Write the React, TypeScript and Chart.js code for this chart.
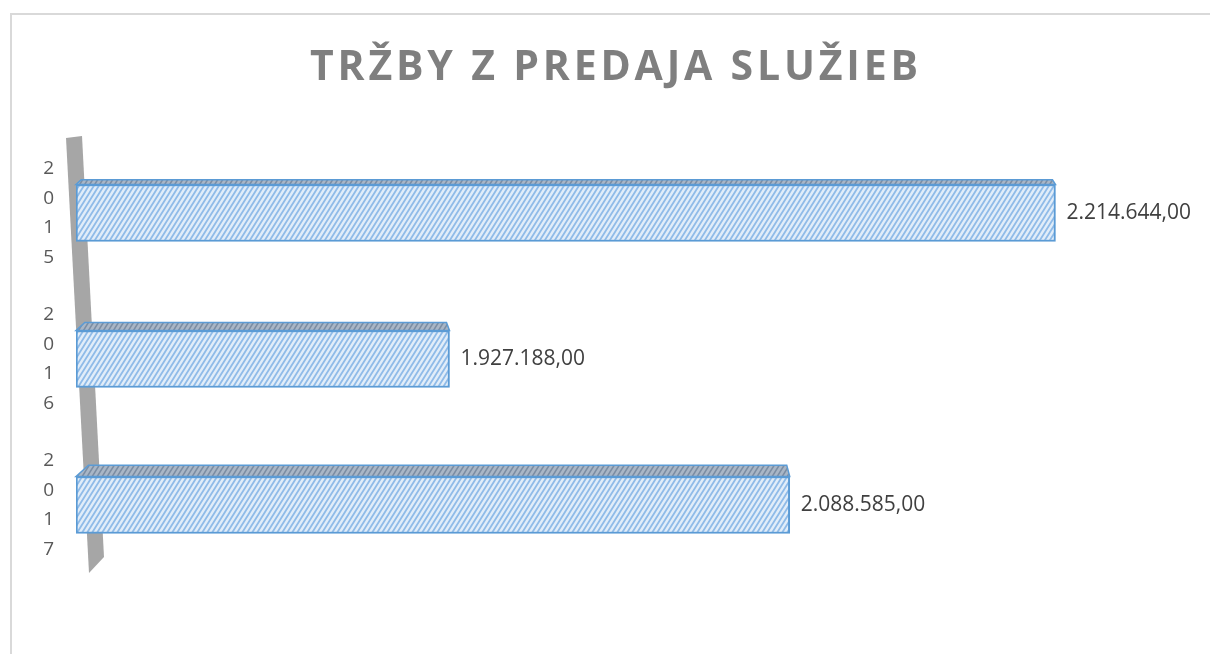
import React, { useEffect, useRef } from "react";
import { Chart, registerables } from "chart.js";

Chart.register(...registerables);

const categories = ["2015", "2016", "2017"];
const values = [2214644.0, 1927188.0, 2088585.0];
const tickLabels = categories.map((c) => c.split(""));
const titleText = "TRŽBY Z PREDAJA SLUŽIEB";
const axisMin = 1750000;
const axisMax = 2250000;

function fmt(v: number): string {
  const [i, d] = v.toFixed(2).split(".");
  return i.replace(/\B(?=(\d{3})+(?!\d))/g, ".") + "," + d;
}

function makePattern(bg: string, line: string, lw: number): CanvasPattern | string {
  const w = 5;
  const h = 8;
  const c = document.createElement("canvas");
  c.width = w;
  c.height = h;
  const g = c.getContext("2d");
  if (!g) return bg;
  g.fillStyle = bg;
  g.fillRect(0, 0, w, h);
  g.strokeStyle = line;
  g.lineWidth = lw;
  g.beginPath();
  for (const ox of [-w, 0, w]) {
    for (const oy of [-h, 0, h]) {
      g.moveTo(ox, oy + h);
      g.lineTo(ox + w, oy);
    }
  }
  g.stroke();
  const p = g.createPattern(c, "repeat");
  return p || bg;
}

export default function App() {
  const ref = useRef<HTMLCanvasElement | null>(null);

  useEffect(() => {
    document.body.style.margin = "0";
    const canvas = ref.current;
    if (!canvas) return;

    const frontPattern = makePattern("#e1edf9", "#8fbbe8", 1.8);
    const topPattern = makePattern("#a9b6c6", "#7b8da3", 1.5);

    const framePlugin = {
      id: "frameTitle",
      beforeDraw(chart: any) {
        const ctx = chart.ctx as CanvasRenderingContext2D;
        ctx.save();
        ctx.fillStyle = "#ffffff";
        ctx.fillRect(0, 0, chart.width, chart.height);
        ctx.strokeStyle = "#d9d9d9";
        ctx.lineWidth = 2;
        ctx.beginPath();
        ctx.moveTo(11, chart.height + 2);
        ctx.lineTo(11, 14);
        ctx.lineTo(chart.width + 2, 14);
        ctx.stroke();

        ctx.font = "bold 41px 'Open Sans'";
        ctx.fillStyle = "#7f7f7f";
        ctx.textBaseline = "alphabetic";
        const target = 608;
        const chars = Array.from(titleText);
        const widths = chars.map((ch) => ctx.measureText(ch).width);
        const raw = widths.reduce((s, w) => s + w, 0);
        const spacing = Math.max(0, (target - raw) / (chars.length - 1));
        const total = raw + spacing * (chars.length - 1);
        let x = 614 - total / 2;
        chars.forEach((ch, i) => {
          ctx.fillText(ch, x, 80);
          x += widths[i] + spacing;
        });
        ctx.restore();
      },
    };

    const wallPlugin = {
      id: "wall",
      beforeDatasetsDraw(chart: any) {
        const a = chart.chartArea;
        const ctx = chart.ctx as CanvasRenderingContext2D;
        ctx.save();
        ctx.fillStyle = "#a6a6a6";
        ctx.beginPath();
        ctx.moveTo(a.left - 10, a.top - 2);
        ctx.lineTo(a.left + 6, a.top - 4);
        ctx.lineTo(a.left + 28, a.bottom - 21);
        ctx.lineTo(a.left + 13, a.bottom - 5);
        ctx.closePath();
        ctx.fill();
        ctx.restore();
      },
    };

    const facePlugin = {
      id: "faces",
      afterDatasetsDraw(chart: any) {
        const a = chart.chartArea;
        const ctx = chart.ctx as CanvasRenderingContext2D;
        const meta = chart.getDatasetMeta(0);
        ctx.save();
        meta.data.forEach((el: any, i: number) => {
          const { x, y, base, height } = el.getProps(["x", "y", "base", "height"], true);
          const top = y - height / 2;
          const d = 3 + (10 * (y - a.top)) / a.height;
          ctx.beginPath();
          ctx.moveTo(base, top);
          ctx.lineTo(base + d * 1.1, top - d);
          ctx.lineTo(x - 3, top - d);
          ctx.lineTo(x, top);
          ctx.closePath();
          ctx.fillStyle = topPattern as any;
          ctx.fill();
          ctx.strokeStyle = "#5b9bd5";
          ctx.lineWidth = 1.5;
          ctx.stroke();

          ctx.font = "21px 'Open Sans'";
          ctx.fillStyle = "#404040";
          ctx.textAlign = "left";
          ctx.textBaseline = "middle";
          ctx.fillText(fmt(values[i]), x + 11, y);
        });
        ctx.restore();
      },
    };

    const chart = new Chart(canvas, {
      type: "bar",
      data: {
        labels: tickLabels,
        datasets: [
          {
            data: values,
            base: axisMin,
            backgroundColor: frontPattern as any,
            borderColor: "#5b9bd5",
            borderWidth: 2,
            borderSkipped: false,
            barThickness: 57,
          } as any,
        ],
      },
      options: {
        indexAxis: "y",
        responsive: false,
        animation: false,
        layout: { padding: { top: 140, bottom: 76, left: 0, right: 80 } },
        plugins: {
          legend: { display: false },
          title: { display: false },
          tooltip: { enabled: false },
        },
        scales: {
          x: {
            display: false,
            min: axisMin,
            max: axisMax,
          },
          y: {
            grid: { display: false, drawTicks: false },
            border: { display: false },
            ticks: {
              color: "#595959",
              font: { family: "'Open Sans'", size: 19, lineHeight: 1.55 },
              padding: 22,
            },
            afterFit(scale: any) {
              scale.width = 76;
              scale.paddingTop = 0;
              scale.paddingBottom = 0;
            },
          },
        },
      },
      plugins: [framePlugin, wallPlugin, facePlugin],
    });

    return () => chart.destroy();
  }, []);

  return (
    <div style={{ width: 1210, height: 654 }}>
      <canvas ref={ref} width={1210} height={654} style={{ width: 1210, height: 654, display: "block" }} />
    </div>
  );
}
